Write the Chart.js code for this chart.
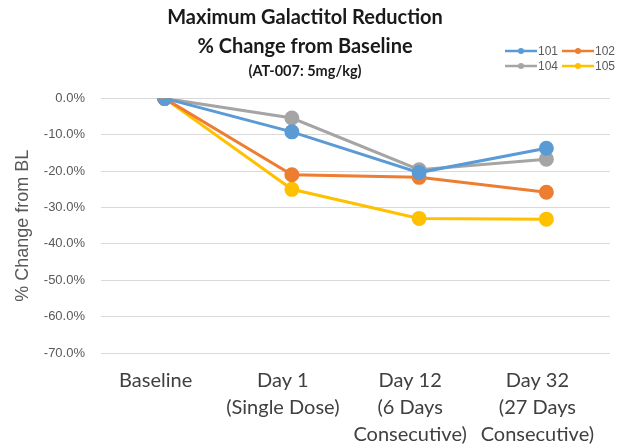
<!DOCTYPE html>
<html>
<head>
<meta charset="utf-8">
<script src="https://cdn.jsdelivr.net/npm/chart.js@4/dist/chart.umd.min.js"></script>
<style>
  html, body { margin: 0; padding: 0; background: #fff; }
  #wrap { width: 627px; height: 448px; }
</style>
</head>
<body>
<div id="wrap"><canvas id="lineChart"></canvas></div>
<script>
const categories = [
    'Baseline',
    ['Day 1', '(Single Dose)'],
    ['Day 12', '(6 Days', 'Consecutive)'],
    ['Day 32', '(27 Days', 'Consecutive)']
];
const seriesNames = ['101', '102', '104', '105'];
const s101 = [0, -9.2, -20.4, -13.7];
const s102 = [0, -21.0, -21.7, -25.8];
const s104 = [0, -5.4, -19.6, -16.7];
const s105 = [0, -25.0, -33.0, -33.2];
const colors = ['#5B9BD5', '#ED7D31', '#A5A5A5', '#FFC000'];

const ctx1 = document.getElementById('lineChart');

// legend drawn in the top right corner, two rows like the original
const cornerLegend = {
    id: 'cornerLegend',
    afterDraw(chart) {
        const c = chart.ctx;
        const cols = [505, 562];
        const rows = [51, 66];
        c.save();
        c.font = '12px "Liberation Sans", Arial, sans-serif';
        c.textBaseline = 'middle';
        chart.data.datasets.forEach((ds, i) => {
            const x = cols[i % 2];
            const y = rows[Math.floor(i / 2)];
            c.strokeStyle = ds.borderColor;
            c.lineWidth = 2.5;
            c.beginPath();
            c.moveTo(x, y);
            c.lineTo(x + 32, y);
            c.stroke();
            c.fillStyle = ds.borderColor;
            c.beginPath();
            c.arc(x + 16, y, 3, 0, Math.PI * 2);
            c.fill();
            c.fillStyle = '#595959';
            c.fillText(ds.label, x + 33, y + 1);
        });
        c.restore();
    }
};

const chart = new Chart(ctx1, {
    type: 'line',
    data: {
        labels: categories,
        datasets: [s101, s102, s104, s105].map((d, i) => ({
            label: seriesNames[i],
            data: d,
            borderColor: colors[i],
            backgroundColor: colors[i],
            borderWidth: 3,
            pointRadius: 6,
            pointHoverRadius: 6,
            tension: 0
        }))
    },
    options: {
        responsive: true,
        maintainAspectRatio: false,
        animation: false,
        layout: {
            padding: { left: 0, right: 17, top: 0, bottom: 0 }
        },
        plugins: {
            legend: { display: false },
            tooltip: { enabled: false },
            title: {
                display: true,
                text: ['Maximum Galactitol Reduction', '% Change from Baseline'],
                color: '#1a1a1a',
                font: { family: 'Lato', size: 20, weight: 'bold', lineHeight: 1.45 },
                padding: { top: 3, bottom: 0 }
            },
            subtitle: {
                display: true,
                text: '(AT-007: 5mg/kg)',
                color: '#1a1a1a',
                font: { family: 'Lato', size: 14.5, weight: 'bold', lineHeight: 1.2 },
                padding: { top: 2, bottom: 18 }
            }
        },
        scales: {
            x: {
                offset: true,
                grid: { display: false, drawTicks: false },
                border: { display: false },
                afterFit(scale) { scale.height = 95; },
                ticks: {
                    color: '#404040',
                    font: { family: 'Lato', size: 20, lineHeight: 1.35 },
                    padding: 14,
                    labelOffset: -9,
                    maxRotation: 0,
                    autoSkip: false
                }
            },
            y: {
                min: -70,
                max: 0,
                border: { display: false },
                grid: { color: '#D9D9D9', lineWidth: 1, drawTicks: false },
                afterFit(scale) { scale.width = 101; },
                ticks: {
                    stepSize: 10,
                    color: '#595959',
                    padding: 16,
                    font: { family: '"Liberation Sans", Arial', size: 13 },
                    callback: v => v.toFixed(1) + '%'
                },
                title: {
                    display: true,
                    text: '% Change from BL',
                    color: '#595959',
                    font: { family: '"Liberation Sans", Arial', size: 18 },
                    padding: { top: 12, bottom: 0 }
                }
            }
        }
    },
    plugins: [cornerLegend]
});
</script>
</body>
</html>
